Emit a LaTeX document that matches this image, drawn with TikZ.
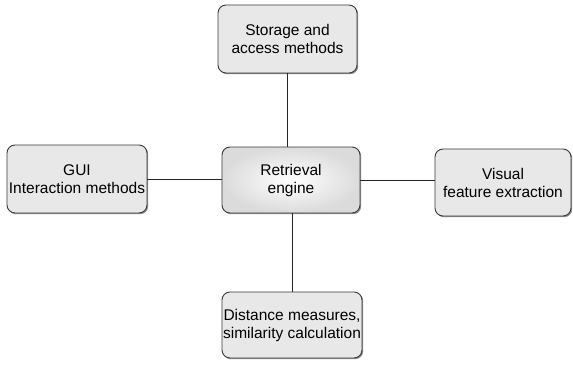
\documentclass[tikz,border=0pt]{standalone}
\usepackage{fontspec}
\setmainfont{Liberation Sans}
\usetikzlibrary{shadows}
\definecolor{boxfill}{HTML}{E8E8E8}
\definecolor{boxline}{HTML}{3A3A3A}
\tikzset{
  x=1pt, y=1pt,
  box/.style={draw=boxline, line width=0.9pt, rounded corners=8pt, fill=boxfill,
    align=center, inner sep=0pt, font=\fontsize{15.5}{18}\selectfont, text=black,
    drop shadow={shadow xshift=1.2pt, shadow yshift=-1.2pt, fill=black!55, opacity=0.8}},
  hub/.style={box, fill=none, inner color=white, outer color=black!14},
  link/.style={draw=black!85, line width=0.8pt}
}
\begin{document}
\begin{tikzpicture}
\useasboundingbox (0,0) rectangle (573,365);
\node[box, minimum width=139pt, minimum height=68pt] (top) at (287.5,326) {Storage and\\access methods};
\node[box, minimum width=140pt, minimum height=68pt] (left) at (77,186) {GUI\\Interaction methods};
\node[hub, minimum width=138pt, minimum height=66pt] (center) at (291,185) {Retrieval\\engine};
\node[box, minimum width=136pt, minimum height=67pt] (right) at (503,182.5) {Visual\\feature extraction};
\node[box, minimum width=140pt, minimum height=66pt] (bottom) at (292,40) {Distance measures,\\similarity calculation};
\draw[link] (top.south) -- (top.south |- center.north);
\draw[link] (left.east) -- (left.east -| center.west);
\draw[link] (center.east) -- (center.east -| right.west);
\draw[link] (bottom.north) -- (bottom.north |- center.south);
\end{tikzpicture}
\end{document}
